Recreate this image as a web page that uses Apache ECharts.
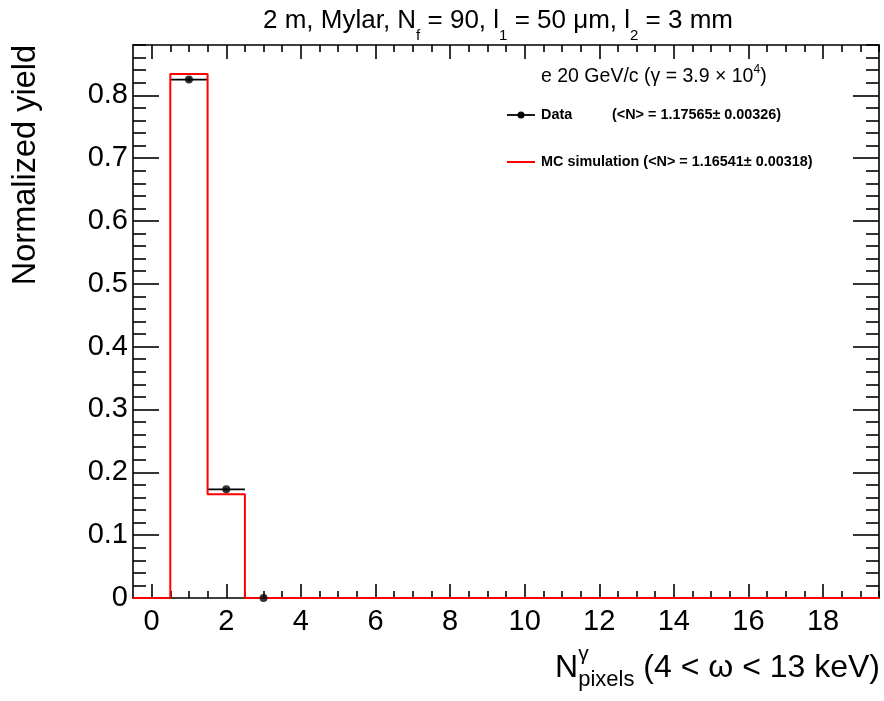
<!DOCTYPE html>
<html>
<head>
<meta charset="utf-8">
<script src="https://cdn.jsdelivr.net/npm/echarts@6/dist/echarts.min.js"></script>
<style>
  html, body { margin: 0; padding: 0; background: #fff; }
  #chart { width: 884px; height: 701px; }
</style>
</head>
<body>
<div id="chart"></div>
<script>
// Photon-pixel multiplicity, 20 GeV/c electrons
const binCenters = [0, 1, 2, 3, 4, 5, 6, 7, 8, 9, 10, 11, 12, 13, 14, 15, 16, 17, 18, 19];
const mcYield    = [0, 0.834, 0.165, 0, 0, 0, 0, 0, 0, 0, 0, 0, 0, 0, 0, 0, 0, 0, 0, 0];
const dataBins   = [1, 2, 3];
const dataYield  = [0.825, 0.173, 0.0];
const dataErr    = [0.003, 0.002, 0.0];
const xTickLabels = [0, 2, 4, 6, 8, 10, 12, 14, 16, 18];
const yTickLabels = [0, 0.1, 0.2, 0.3, 0.4, 0.5, 0.6, 0.7, 0.8];

const FONT = '"Liberation Sans", Arial, Helvetica, sans-serif';
const X_MIN = -0.5, X_MAX = 19.5, Y_MIN = 0, Y_MAX = 0.88;

// minor tick positions
const xMinor = [];
for (let v = 0; v <= 19.5; v += 0.5) if (v % 2 !== 0) xMinor.push(v);
const yMinor = [];
for (let i = 1; i <= 44; i++) if (i % 5 !== 0) yMinor.push(+(i * 0.02).toFixed(2));

// histogram outline for the MC prediction
const mcOutline = [];
binCenters.forEach((c, i) => {
  mcOutline.push([c - 0.5, mcYield[i]]);
  mcOutline.push([c + 0.5, mcYield[i]]);
});

// text with sub/superscripts, laid out piece by piece
const measureCtx = document.createElement('canvas').getContext('2d');
function fontStr(size, weight) { return (weight || 'normal') + ' ' + size + 'px ' + FONT; }
function textWidth(t, size, weight) { measureCtx.font = fontStr(size, weight); return measureCtx.measureText(t).width; }
// parts: [{t, size, dy, weight, stack}] ; stack groups share one x start
function richText(parts, x, y, align, color) {
  const items = [];
  let cursor = 0;
  let i = 0;
  while (i < parts.length) {
    const p = parts[i];
    if (p.stack) {
      const grp = [];
      while (i < parts.length && parts[i].stack === p.stack) { grp.push(parts[i]); i++; }
      let w = 0;
      grp.forEach(g => { items.push({ g, off: cursor }); w = Math.max(w, textWidth(g.t, g.size, g.weight)); });
      cursor += w;
    } else {
      items.push({ g: p, off: cursor });
      cursor += textWidth(p.t, p.size, p.weight);
      i++;
    }
  }
  const x0 = align === 'right' ? x - cursor : align === 'center' ? x - cursor / 2 : x;
  return items.map(({ g, off }) => ({
    type: 'text', x: x0 + off, y: y + (g.dy || 0), silent: true,
    style: { text: g.t, font: fontStr(g.size, g.weight), fill: color || '#000', align: 'left', verticalAlign: 'middle' }
  }));
}

const graphics = [];
// title
graphics.push(...richText([
  { t: '2 m, Mylar, N', size: 26 }, { t: 'f', size: 15, dy: 15 },
  { t: ' = 90, l', size: 26 }, { t: '1', size: 15, dy: 15 },
  { t: ' = 50 μm, l', size: 26 }, { t: '2', size: 15, dy: 15 },
  { t: ' = 3 mm', size: 26 }
], 498, 21, 'center'));
// beam label
graphics.push(...richText([
  { t: 'e 20 GeV/c (γ = 3.9 × 10', size: 19.5 }, { t: '4', size: 12, dy: -7 }, { t: ')', size: 19.5 }
], 541, 77, 'left'));
// legend: data
graphics.push({ type: 'line', silent: true, shape: { x1: 507, y1: 115, x2: 535, y2: 115 }, style: { stroke: '#000', lineWidth: 1.8 } });
graphics.push({ type: 'circle', silent: true, shape: { cx: 521, cy: 115, r: 3.5 }, style: { fill: '#000' } });
graphics.push(...richText([{ t: 'Data', size: 14.4, weight: 'bold' }], 541, 115, 'left'));
graphics.push(...richText([{ t: '(<N> = 1.17565± 0.00326)', size: 14.4, weight: 'bold' }], 612, 115, 'left'));
// legend: MC
graphics.push({ type: 'line', silent: true, shape: { x1: 507, y1: 162, x2: 535, y2: 162 }, style: { stroke: '#ff0000', lineWidth: 2 } });
graphics.push(...richText([{ t: 'MC simulation (<N> = 1.16541± 0.00318)', size: 14.4, weight: 'bold' }], 541, 162, 'left'));
// y axis title (rotated)
graphics.push({
  type: 'text', x: 26, y: 45, rotation: Math.PI / 2, silent: true,
  style: { text: 'Normalized yield', font: fontStr(32.5), fill: '#000', align: 'right', verticalAlign: 'middle' }
});
// x axis title
graphics.push(...richText([
  { t: 'N', size: 32 },
  { t: 'γ', size: 21, dy: -14, stack: 's1' }, { t: 'pixels', size: 22, dy: 12, stack: 's1' },
  { t: ' (4 < ω < 13 keV)', size: 32 }
], 880, 668, 'right'));

function xAxisDef(position, ticks, len, withLabels, withLine) {
  return {
    type: 'value', position, min: X_MIN, max: X_MAX, gridIndex: 0,
    axisLine: { show: withLine, onZero: false, lineStyle: { color: '#000', width: 1.6 } },
    axisTick: { show: true, inside: true, length: len, customValues: ticks, lineStyle: { color: '#000', width: 1.6 } },
    axisLabel: withLabels ? {
      show: true, customValues: xTickLabels, margin: 9, color: '#000', fontSize: 29, fontFamily: FONT,
      formatter: v => String(v)
    } : { show: false },
    splitLine: { show: false }, minorTick: { show: false }
  };
}
function yAxisDef(position, ticks, len, withLabels, withLine) {
  return {
    type: 'value', position, min: Y_MIN, max: Y_MAX, gridIndex: 0,
    axisLine: { show: withLine, onZero: false, lineStyle: { color: '#000', width: 1.6 } },
    axisTick: { show: true, inside: true, length: len, customValues: ticks, lineStyle: { color: '#000', width: 1.6 } },
    axisLabel: withLabels ? {
      show: true, customValues: yTickLabels, margin: 5, color: '#000', fontSize: 29, fontFamily: FONT,
      formatter: v => (v === 0 ? '0' : v.toFixed(1))
    } : { show: false },
    splitLine: { show: false }, minorTick: { show: false }
  };
}

const chart = echarts.init(document.getElementById('chart'), null, { renderer: 'canvas' });
chart.setOption({
  animation: false,
  backgroundColor: '#fff',
  grid: { left: 133, right: 5, top: 45, bottom: 103, containLabel: false },
  xAxis: [
    xAxisDef('bottom', xTickLabels, 14, true, true),
    xAxisDef('bottom', xMinor, 7, false, false),
    xAxisDef('top', xTickLabels, 14, false, true),
    xAxisDef('top', xMinor, 7, false, false)
  ],
  yAxis: [
    yAxisDef('left', yTickLabels, 26, true, true),
    yAxisDef('left', yMinor, 13, false, false),
    yAxisDef('right', yTickLabels, 26, false, true),
    yAxisDef('right', yMinor, 13, false, false)
  ],
  series: [
    {
      // horizontal bin-width bars and statistical errors of the data
      type: 'custom', xAxisIndex: 0, yAxisIndex: 0, z: 2, clip: false,
      data: dataBins.map((b, i) => [b, dataYield[i], dataErr[i]]),
      renderItem: (params, api) => {
        const x = api.value(0), y = api.value(1), e = api.value(2);
        const pL = api.coord([x - 0.5, y]);
        const pR = api.coord([x + 0.5, y]);
        const pT = api.coord([x, y + e]);
        const pB = api.coord([x, y - e]);
        return {
          type: 'group', children: [
            { type: 'line', shape: { x1: pL[0], y1: pL[1], x2: pR[0], y2: pR[1] }, style: { stroke: '#000', lineWidth: 1.8 } },
            { type: 'line', shape: { x1: pT[0], y1: pT[1], x2: pB[0], y2: pB[1] }, style: { stroke: '#000', lineWidth: 1.8 } }
          ]
        };
      }
    },
    {
      type: 'line', name: 'MC simulation', xAxisIndex: 0, yAxisIndex: 0, z: 3,
      data: mcOutline, showSymbol: false, symbol: 'none', clip: false,
      lineStyle: { color: '#ff0000', width: 2 }
    },
    {
      type: 'scatter', name: 'Data', xAxisIndex: 0, yAxisIndex: 0, z: 4, clip: false,
      data: dataBins.map((b, i) => [b, dataYield[i]]),
      symbol: 'circle', symbolSize: 8, itemStyle: { color: '#000' }
    }
  ],
  graphic: graphics
});
</script>
</body>
</html>
